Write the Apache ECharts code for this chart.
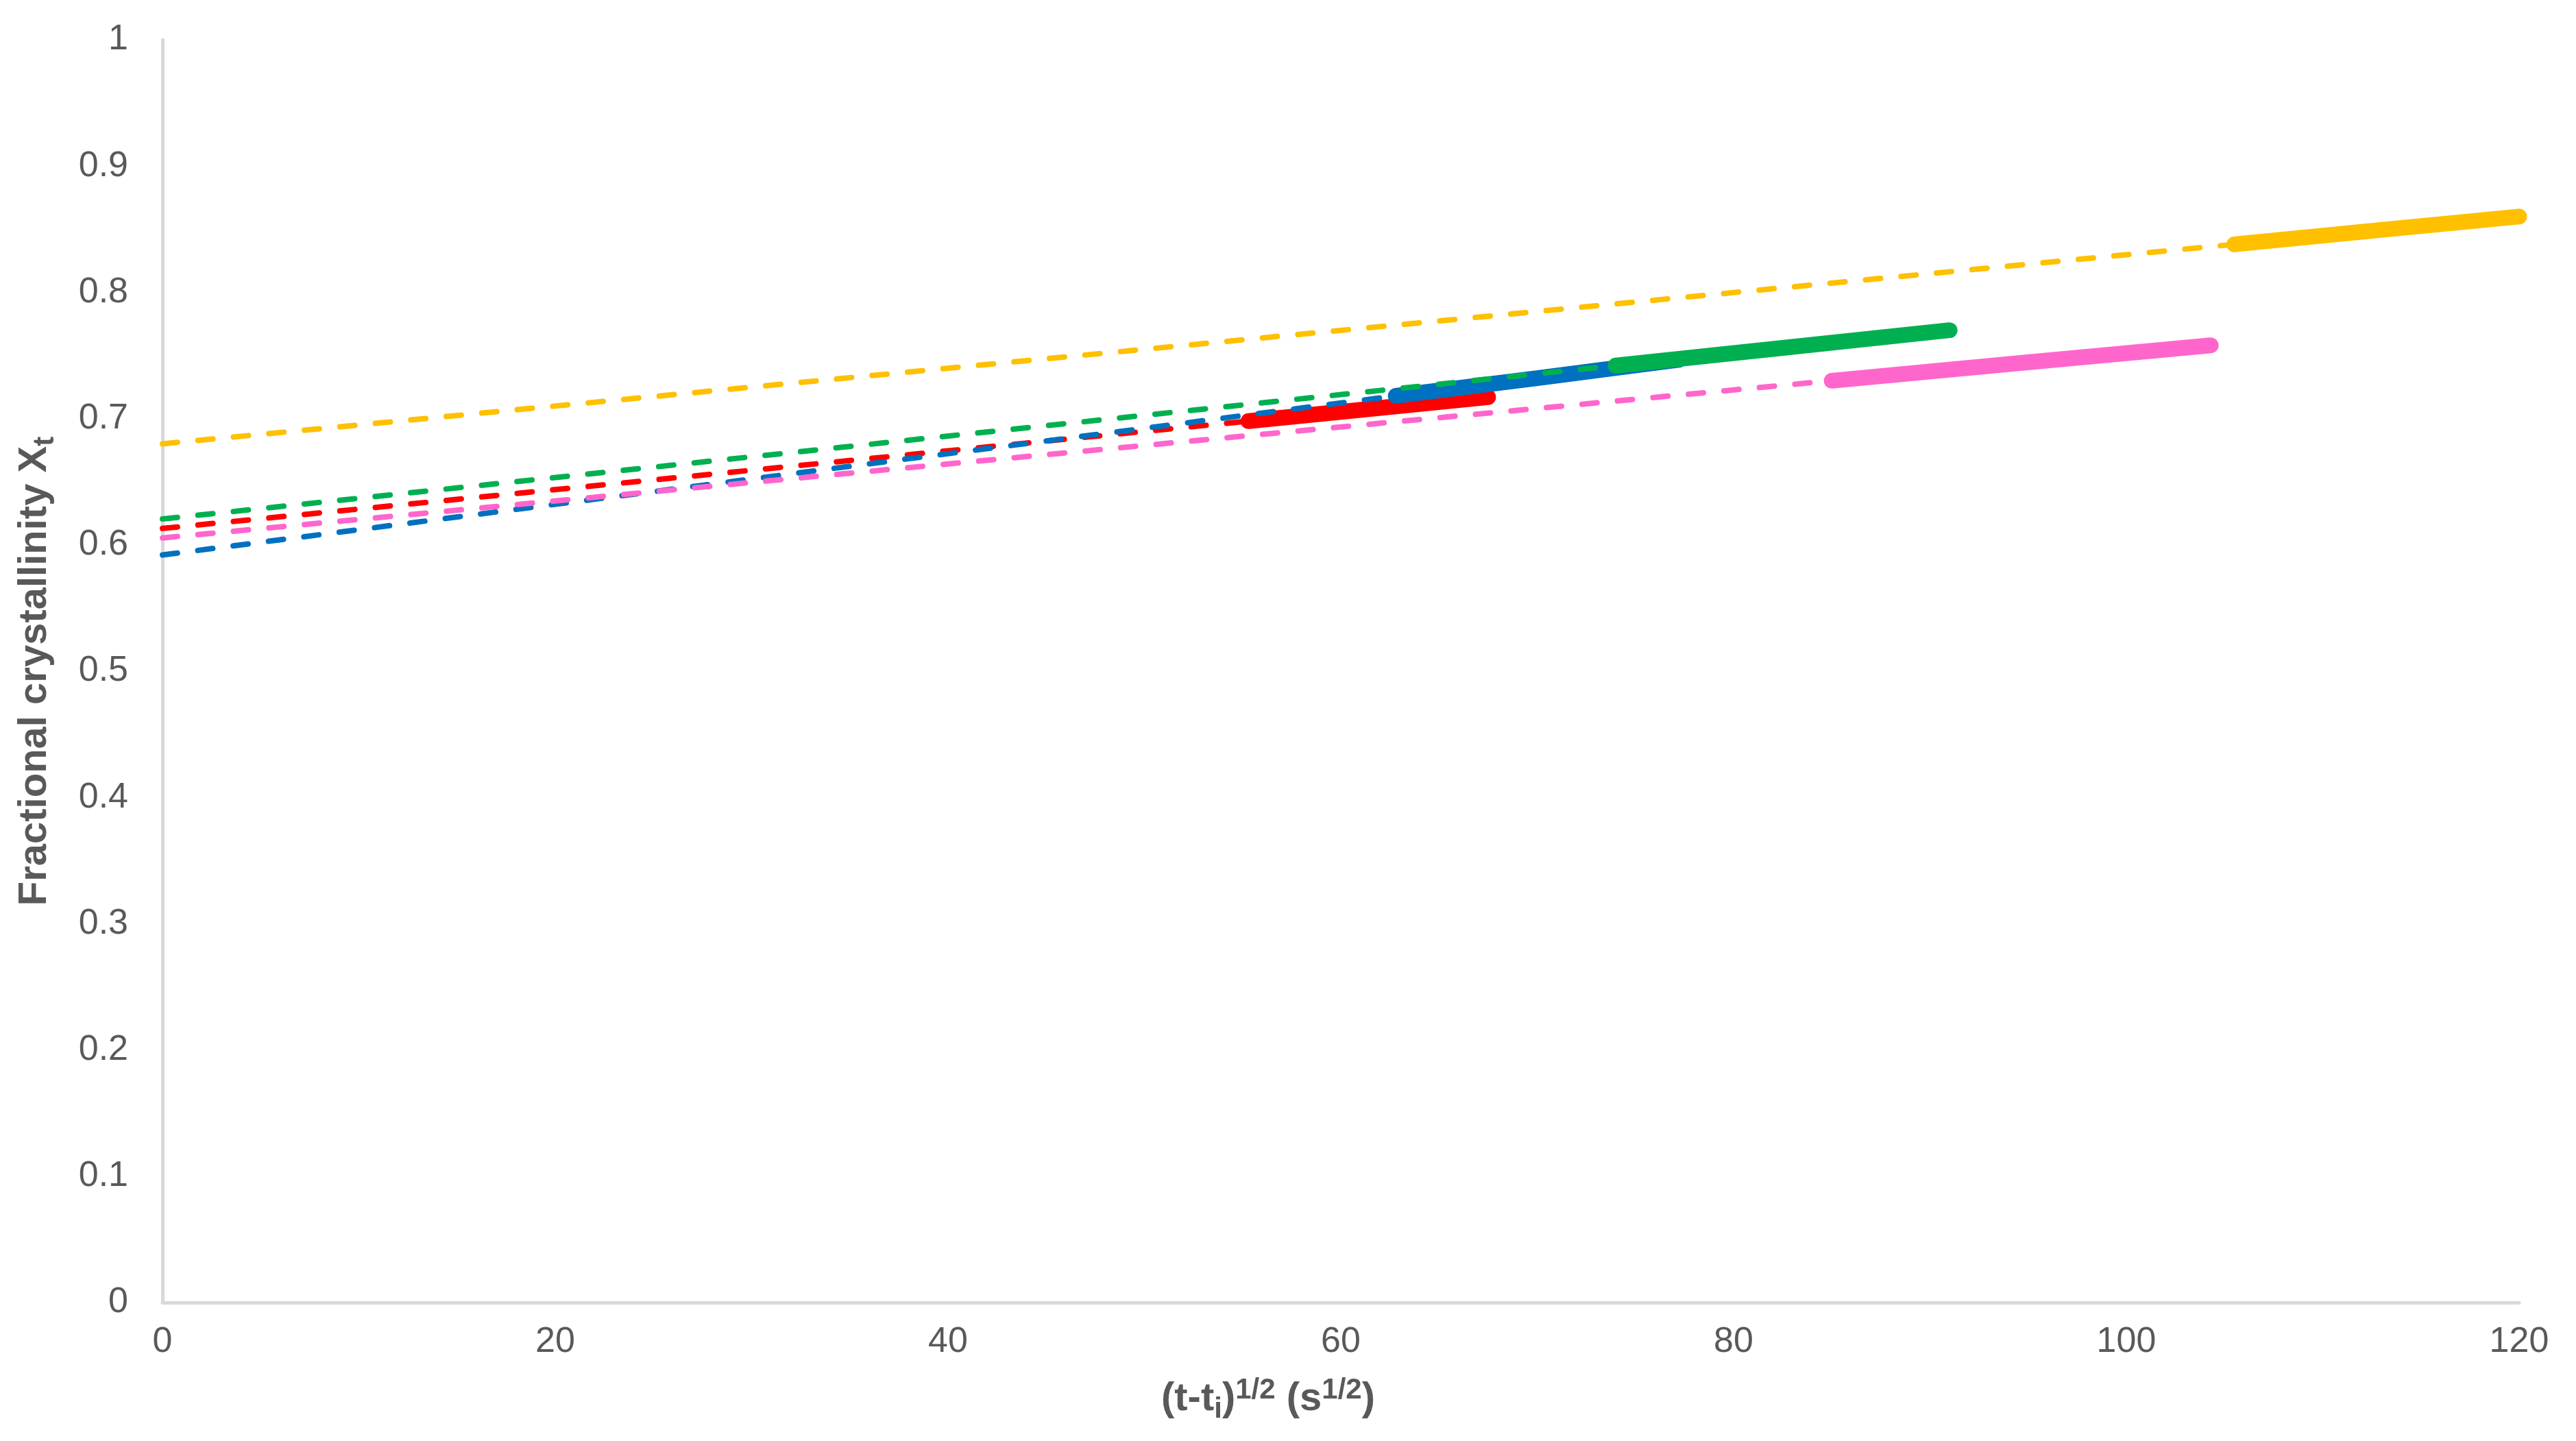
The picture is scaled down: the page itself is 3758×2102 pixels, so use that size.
<!DOCTYPE html>
<html>
<head>
<meta charset="utf-8">
<script src="https://cdn.jsdelivr.net/npm/echarts@6/dist/echarts.min.js"></script>
<style>
html, body { margin: 0; padding: 0; background: #fff; }
#myChart { width: 3758px; height: 2102px; }
</style>
</head>
<body>
<div id="myChart"></div>
<script>
// measured points (x = (t-ti)^1/2, y = Xt)
var redX = [55.3, 61.4, 67.5];
var redY = [0.698, 0.7075, 0.717];
var blueX = [62.8, 70, 77.2];
var blueY = [0.718, 0.732, 0.7465];
var greenX = [74, 82.5, 91];
var greenY = [0.742, 0.756, 0.770];
var pinkX = [85, 94.6, 104.3];
var pinkY = [0.730, 0.744, 0.758];
var yellowX = [105.5, 112.7, 120];
var yellowY = [0.838, 0.849, 0.860];

// trendlines, drawn back to x = 0
var redTrendX = [0, 55.3];
var redTrendY = [0.613, 0.698];
var blueTrendX = [0, 62.8];
var blueTrendY = [0.592, 0.718];
var greenTrendX = [0, 74];
var greenTrendY = [0.6205, 0.742];
var pinkTrendX = [0, 85];
var pinkTrendY = [0.6055, 0.730];
var yellowTrendX = [0, 105.5];
var yellowTrendY = [0.680, 0.838];

var xTicks = [0, 20, 40, 60, 80, 100, 120];
var yTicks = [0, 0.1, 0.2, 0.3, 0.4, 0.5, 0.6, 0.7, 0.8, 0.9, 1];

function pairs(xs, ys) {
    var out = [];
    for (var i = 0; i < xs.length; i++) out.push([xs[i], ys[i]]);
    return out;
}

function solid(name, xs, ys, color) {
    return {
        name: name,
        type: 'line',
        data: pairs(xs, ys),
        showSymbol: false,
        clip: false,
        lineStyle: { color: color, width: 23, cap: 'round', join: 'round' },
        z: 2
    };
}

function trend(name, xs, ys, color) {
    return {
        name: name,
        type: 'line',
        data: pairs(xs, ys),
        showSymbol: false,
        clip: false,
        lineStyle: { color: color, width: 8, type: [22, 30], cap: 'round' },
        z: 3
    };
}

var myChart = echarts.init(document.getElementById('myChart'));

var labelFont = { color: '#595959', fontSize: 52, fontFamily: 'Liberation Sans' };
var richTitle = {
    b: { color: '#595959', fontSize: 58, fontWeight: 'bold', fontFamily: 'Liberation Sans', lineHeight: 72, verticalAlign: 'middle' },
    sup: { color: '#595959', fontSize: 42, fontWeight: 'bold', fontFamily: 'Liberation Sans', lineHeight: 72, verticalAlign: 'top', padding: [2, 0, 0, 0] },
    sub: { color: '#595959', fontSize: 42, fontWeight: 'bold', fontFamily: 'Liberation Sans', lineHeight: 72, verticalAlign: 'bottom' }
};

option = {
    backgroundColor: '#ffffff',
    animation: false,
    grid: { left: 237, right: 83, top: 58, bottom: 202, containLabel: false },
    xAxis: {
        type: 'value',
        min: xTicks[0],
        max: xTicks[xTicks.length - 1],
        interval: 20,
        axisLine: { show: true, lineStyle: { color: '#D9D9D9', width: 5 } },
        axisTick: { show: false },
        splitLine: { show: false },
        axisLabel: Object.assign({ margin: 32 }, labelFont),
        name: '{b|(t-t}{sub|i}{b|)}{sup|1/2}{b| (s}{sup|1/2}{b|)}',
        nameLocation: 'middle',
        nameGap: 105,
        nameTextStyle: { rich: richTitle, padding: [0, 212, 0, 0] }
    },
    yAxis: {
        type: 'value',
        min: yTicks[0],
        max: yTicks[yTicks.length - 1],
        interval: 0.1,
        axisLine: { show: true, lineStyle: { color: '#D9D9D9', width: 5 } },
        axisTick: { show: false },
        splitLine: { show: false },
        axisLabel: Object.assign({ margin: 50 }, labelFont),
        name: '{b|Fractional crystallinity X}{sub|t}',
        nameLocation: 'middle',
        nameGap: 150,
        nameTextStyle: { rich: richTitle }
    },
    series: [
        solid('Red', redX, redY, '#FF0000'),
        solid('Blue', blueX, blueY, '#0070C0'),
        solid('Green', greenX, greenY, '#00B050'),
        solid('Pink', pinkX, pinkY, '#FF66CC'),
        solid('Yellow', yellowX, yellowY, '#FFC000'),
        trend('Red fit', redTrendX, redTrendY, '#FF0000'),
        trend('Blue fit', blueTrendX, blueTrendY, '#0070C0'),
        trend('Green fit', greenTrendX, greenTrendY, '#00B050'),
        trend('Pink fit', pinkTrendX, pinkTrendY, '#FF66CC'),
        trend('Yellow fit', yellowTrendX, yellowTrendY, '#FFC000')
    ]
};

myChart.setOption(option);
</script>
</body>
</html>
